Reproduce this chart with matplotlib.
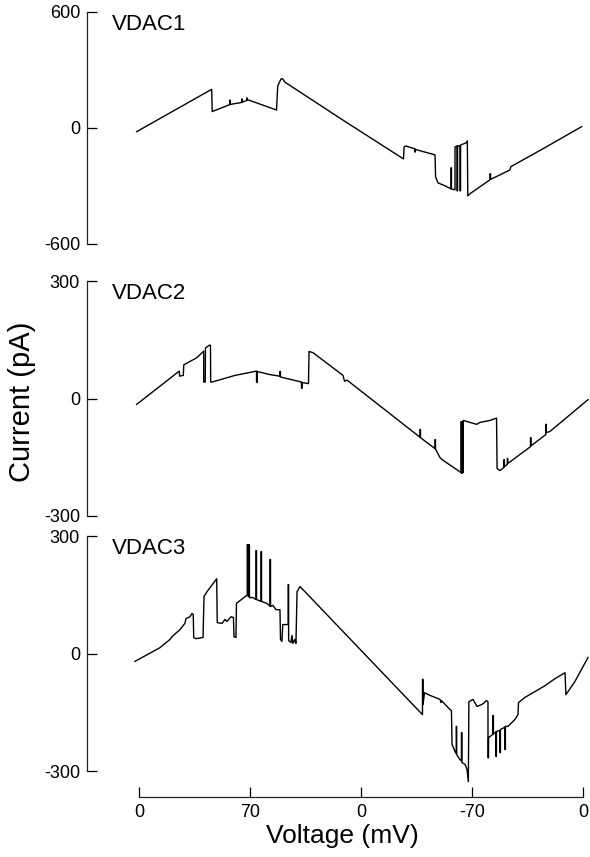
import matplotlib
matplotlib.use('Agg')
import matplotlib.pyplot as plt

plt.rcParams['font.family'] = ['Liberation Sans', 'DejaVu Sans']

# sweep position (tick units) and current (pA)
vdac1_t = [-0.021, 0.655, 0.660, 0.818, 0.818, 0.822, 0.822, 0.925, 0.925, 0.929, 0.929,
           0.970, 0.970, 0.974, 0.974, 0.991, 1.239, 1.250, 1.279, 1.293, 1.315, 1.850,
           2.383, 2.388, 2.405, 2.486, 2.486, 2.490, 2.490, 2.667, 2.672, 2.694, 2.757,
           2.811, 2.811, 2.815, 2.815, 2.847, 2.847, 2.865, 2.865, 2.870, 2.870, 2.892,
           2.892, 2.897, 2.897, 2.946, 2.958, 2.962, 2.982, 3.162, 3.162, 3.167, 3.167,
           3.342, 3.350, 3.613, 3.988]
vdac1_i = [-19, 200, 85, 121, 144, 144, 122, 132, 150, 150, 134,
           142, 155, 155, 144, 144, 93, 217, 253, 255, 237, 36,
           -160, -98, -93, -108, -124, -124, -111, -139, -253, -284, -299,
           -315, -206, -206, -315, -320, -98, -93, -325, -325, -93, -93,
           -325, -325, -88, -77, -67, -351, -340, -268, -237, -237, -266,
           -217, -200, -116, 7]

vdac2_t = [-0.021, 0.363, 0.366, 0.399, 0.404, 0.520, 0.583, 0.583, 0.597, 0.599, 0.633,
           0.644, 0.646, 0.658, 0.865, 1.059, 1.059, 1.064, 1.064, 1.180, 1.270, 1.270,
           1.274, 1.274, 1.464, 1.464, 1.469, 1.469, 1.527, 1.532, 1.568, 1.838, 1.852,
           1.874, 2.532, 2.532, 2.536, 2.536, 2.667, 2.667, 2.671, 2.671, 2.712, 2.730,
           2.901, 2.901, 2.906, 2.906, 2.911, 2.911, 2.916, 2.916, 2.921, 2.921, 3.042,
           3.072, 3.162, 3.221, 3.226, 3.252, 3.288, 3.288, 3.292, 3.292, 3.318, 3.318,
           3.322, 3.322, 3.527, 3.527, 3.531, 3.531, 3.665, 3.665, 3.669, 3.669, 3.703,
           4.045]
vdac2_i = [-15, 70, 57, 59, 86, 104, 121, 42, 42, 129, 136,
           136, 42, 42, 59, 70, 41, 41, 69, 61, 57, 69,
           69, 55, 42, 26, 26, 41, 38, 120, 117, 59, 44,
           47, -99, -79, -79, -100, -128, -105, -105, -129, -151, -156,
           -189, -59, -59, -191, -191, -59, -59, -189, -189, -56, -66,
           -61, -56, -50, -179, -184, -176, -156, -156, -174, -168, -153,
           -153, -166, -123, -100, -100, -121, -92, -66, -66, -87, -84,
           -3]

vdac3_t = [-0.036, 0.189, 0.279, 0.297, 0.369, 0.414, 0.423, 0.459, 0.477, 0.489, 0.493,
           0.514, 0.577, 0.586, 0.613, 0.700, 0.705, 0.748, 0.775, 0.793, 0.829, 0.851,
           0.856, 0.874, 0.878, 0.910, 0.968, 0.975, 0.975, 0.980, 0.980, 0.990, 0.990,
           0.995, 0.995, 1.027, 1.054, 1.054, 1.059, 1.059, 1.099, 1.099, 1.104, 1.104,
           1.135, 1.153, 1.180, 1.180, 1.185, 1.185, 1.207, 1.234, 1.270, 1.275, 1.288,
           1.295, 1.338, 1.344, 1.344, 1.348, 1.348, 1.369, 1.378, 1.387, 1.405, 1.414,
           1.424, 1.450, 1.468, 2.554, 2.554, 2.559, 2.559, 2.572, 2.622, 2.712, 2.721,
           2.725, 2.802, 2.815, 2.820, 2.847, 2.858, 2.858, 2.862, 2.862, 2.892, 2.905,
           2.905, 2.909, 2.909, 2.937, 2.955, 2.967, 2.972, 3.009, 3.045, 3.090, 3.131,
           3.144, 3.144, 3.149, 3.149, 3.153, 3.189, 3.189, 3.193, 3.193, 3.216, 3.216,
           3.220, 3.220, 3.252, 3.252, 3.256, 3.256, 3.297, 3.297, 3.301, 3.301, 3.324,
           3.387, 3.414, 3.419, 3.477, 3.550, 3.658, 3.748, 3.838, 3.846, 3.928, 4.045]
vdac3_i = [-20, 15, 36, 43, 61, 77, 89, 94, 102, 100, 41,
           38, 41, 146, 158, 191, 79, 77, 87, 82, 94, 92,
           43, 41, 128, 135, 148, 148, 278, 278, 148, 146, 278,
           278, 143, 143, 138, 263, 263, 138, 133, 260, 260, 133,
           130, 128, 121, 240, 240, 120, 123, 112, 112, 36, 31,
           74, 74, 74, 176, 176, 33, 28, 46, 26, 36, 26,
           158, 171, 166, -156, -66, -66, -130, -100, -107, -117, -125,
           -120, -143, -146, -232, -250, -255, -186, -186, -258, -271, -274,
           -202, -202, -278, -283, -296, -327, -123, -117, -135, -130, -120,
           -123, -266, -266, -214, -214, -206, -158, -158, -205, -200, -263,
           -263, -199, -196, -253, -253, -194, -188, -245, -245, -186, -186,
           -168, -156, -125, -112, -100, -82, -64, -49, -105, -71, -10]

tick_pos = [0, 1, 2, 3, 4]
tick_labels = ['0', '70', '0', '-70', '0']

panels = [
    ('VDAC1', vdac1_t, vdac1_i, 600, [0.7153, 0.2707]),
    ('VDAC2', vdac2_t, vdac2_i, 300, [0.3979, 0.2742]),
    ('VDAC3', vdac3_t, vdac3_i, 300, [0.1003, 0.2742]),
]

fig = plt.figure(figsize=(5.9, 8.57), dpi=100)

for k, (name, t, cur, lim, (b, h)) in enumerate(panels):
    ax = fig.add_axes([0.1475, b, 0.8525, h])
    ax.plot(t, cur, color='black', lw=1.0, clip_on=False)
    ax.set_xlim(-0.468, 4.063)
    ax.set_ylim(-lim, lim)
    ax.set_yticks([-lim, 0, lim])
    ax.set_yticklabels([str(-lim), '0', str(lim)])
    for s in ['top', 'right']:
        ax.spines[s].set_visible(False)
    ax.spines['left'].set_color('#222222')
    ax.spines['left'].set_linewidth(0.9)
    ax.tick_params(axis='y', direction='in', length=7, width=0.9, pad=5, labelsize=13)
    ax.text(0.05, 0.99, name, transform=ax.transAxes, ha='left', va='top', fontsize=16)
    if k < 2:
        ax.spines['bottom'].set_visible(False)
        ax.set_xticks([])
    else:
        # voltage axis sits a little below the lowest panel
        ax.spines['bottom'].set_position(('outward', 19))
        ax.spines['bottom'].set_bounds(0, 4)
        ax.spines['bottom'].set_color('#222222')
        ax.spines['bottom'].set_linewidth(0.9)
        ax.set_xticks(tick_pos)
        ax.set_xticklabels(tick_labels)
        ax.tick_params(axis='x', direction='in', length=7, width=0.9, pad=5, labelsize=13)

fig.text(0.038, 0.531, 'Current (pA)', rotation=90, ha='center', va='center', fontsize=21)
fig.text(0.581, 0.025, 'Voltage (mV)', ha='center', va='center', fontsize=19)

fig.savefig('out.png', dpi=100)
